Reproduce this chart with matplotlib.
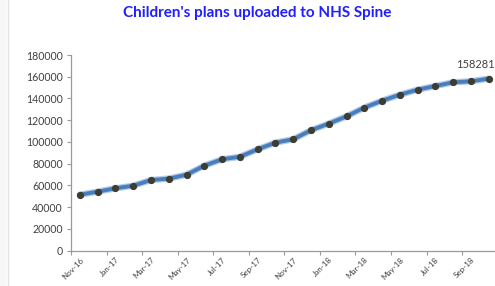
import matplotlib
matplotlib.use("Agg")
from matplotlib import pyplot as plt
from matplotlib.lines import Line2D
from matplotlib.patches import Rectangle

months = ["Nov-16", "Dec-16", "Jan-17", "Feb-17", "Mar-17", "Apr-17", "May-17", "Jun-17",
          "Jul-17", "Aug-17", "Sep-17", "Oct-17", "Nov-17", "Dec-17", "Jan-18", "Feb-18",
          "Mar-18", "Apr-18", "May-18", "Jun-18", "Jul-18", "Aug-18", "Sep-18", "Oct-18"]
plans = [51500, 54300, 57400, 59800, 65000, 66300, 69900, 78200,
         84100, 86400, 93300, 99400, 102500, 110800, 116900, 123600,
         131600, 138000, 143500, 148100, 151500, 154900, 155800, 158281]
y_ticks = [0, 20000, 40000, 60000, 80000, 100000, 120000, 140000, 160000, 180000]

plt.rcParams['font.family'] = ['Lato', 'DejaVu Sans']

fig = plt.figure(figsize=(4.95, 2.86), dpi=100)
fig.patch.set_facecolor("white")

# light strip on the left edge of the screenshot
fig.patches.append(Rectangle((0, 0), 7 / 495, 1, transform=fig.transFigure,
                             facecolor="#f7f7f7", edgecolor="none", zorder=0))
fig.lines.append(Line2D([7.5 / 495, 7.5 / 495], [0, 1], transform=fig.transFigure,
                        color="#e2e2e2", lw=1))

ax = fig.add_axes([71 / 495, 35.3 / 286, 426.7 / 495, 195.7 / 286])

x = list(range(len(plans)))
ax.plot(x, plans, color="#b3cbea", lw=4.6, solid_capstyle="round", zorder=2)
ax.plot(x, plans, color="#4a7ebb", lw=2.8, zorder=3,
        marker="o", markersize=4.2, markerfacecolor="#3d3d30",
        markeredgecolor="#3d3d30")

ax.annotate(str(plans[-1]), (x[-1], plans[-1]), xytext=(4, 6),
            textcoords="offset points", ha="right", va="bottom",
            fontsize=8, color="#404040")

ax.set_xlim(-0.5, len(plans) - 0.5)
ax.set_ylim(0, 180000)
ax.set_yticks(y_ticks)
ax.set_yticklabels([str(v) for v in y_ticks])

# tick marks between category pairs, labels on every other category
ax.set_xticks([i - 0.5 for i in range(0, len(plans), 2)])
ax.set_xticklabels([])
ax.set_xticks(x[::2], minor=True)
ax.set_xticklabels(months[::2], minor=True, rotation=45, ha="right",
                   rotation_mode="anchor", fontsize=5.8, color="#404040")
ax.tick_params(axis="x", which="major", length=3, color="#9a9a9a", width=0.8)
ax.tick_params(axis="x", which="minor", length=0, pad=4)
ax.tick_params(axis="y", length=3, color="#9a9a9a", width=0.8,
               labelsize=7.6, labelcolor="#404040", pad=3)

for s in ["top", "right"]:
    ax.spines[s].set_visible(False)
for s in ["left", "bottom"]:
    ax.spines[s].set_color("#9a9a9a")
    ax.spines[s].set_linewidth(0.9)

fig.text(257 / 495, 1 - 13 / 286, "Children's plans uploaded to NHS Spine",
         ha="center", va="center", fontsize=11, fontweight="bold", color="#1f1fff")

fig.savefig("out.png", dpi=100)
